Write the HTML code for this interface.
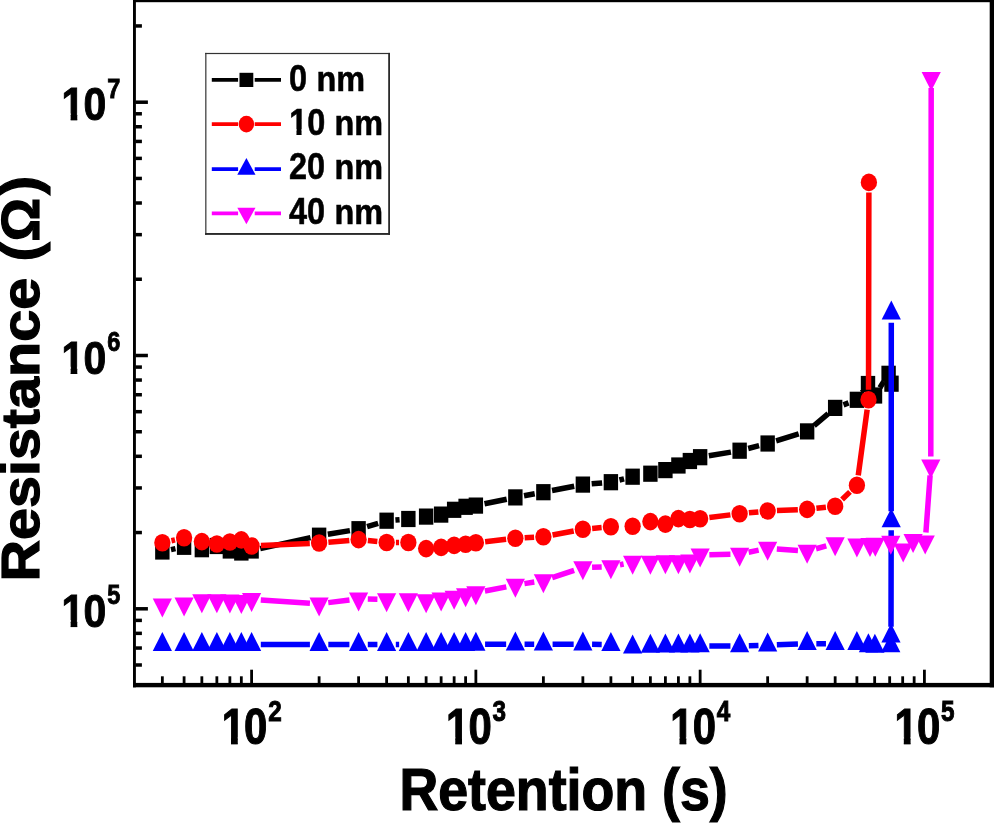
<!DOCTYPE html>
<html><head><meta charset="utf-8"><title>Retention</title>
<style>html,body{margin:0;padding:0;background:#fff;}body{width:994px;height:824px;overflow:hidden;}svg{display:block;will-change:transform;}text{font-family:"Liberation Sans",sans-serif;font-weight:bold;fill:#000;}</style></head><body>
<svg width="994" height="824" viewBox="0 0 994 824">
<rect x="0" y="0" width="994" height="824" fill="#fff"/>
<g fill="#000">
<rect x="133.00" y="0" width="2.90" height="687.30"/>
<rect x="133.00" y="682.90" width="861.00" height="4.40"/>
<rect x="989.70" y="0" width="4.30" height="687.30"/>
<rect x="133.00" y="0.00" width="861.00" height="2.20"/>
<rect x="135.40" y="663.24" width="6.50" height="3.50"/>
<rect x="135.40" y="646.29" width="6.50" height="3.50"/>
<rect x="135.40" y="631.60" width="6.50" height="3.50"/>
<rect x="135.40" y="618.64" width="6.50" height="3.50"/>
<rect x="135.40" y="607.05" width="12.50" height="3.50"/>
<rect x="135.40" y="530.80" width="6.50" height="3.50"/>
<rect x="135.40" y="486.20" width="6.50" height="3.50"/>
<rect x="135.40" y="454.55" width="6.50" height="3.50"/>
<rect x="135.40" y="430.00" width="6.50" height="3.50"/>
<rect x="135.40" y="409.94" width="6.50" height="3.50"/>
<rect x="135.40" y="392.99" width="6.50" height="3.50"/>
<rect x="135.40" y="378.30" width="6.50" height="3.50"/>
<rect x="135.40" y="365.34" width="6.50" height="3.50"/>
<rect x="135.40" y="353.75" width="12.50" height="3.50"/>
<rect x="135.40" y="277.50" width="6.50" height="3.50"/>
<rect x="135.40" y="232.90" width="6.50" height="3.50"/>
<rect x="135.40" y="201.25" width="6.50" height="3.50"/>
<rect x="135.40" y="176.70" width="6.50" height="3.50"/>
<rect x="135.40" y="156.64" width="6.50" height="3.50"/>
<rect x="135.40" y="139.69" width="6.50" height="3.50"/>
<rect x="135.40" y="125.00" width="6.50" height="3.50"/>
<rect x="135.40" y="112.04" width="6.50" height="3.50"/>
<rect x="135.40" y="100.45" width="12.50" height="3.50"/>
<rect x="135.40" y="24.20" width="6.50" height="3.50"/>
<rect x="160.95" y="676.30" width="2.80" height="7.10"/>
<rect x="182.69" y="676.30" width="2.80" height="7.10"/>
<rect x="200.45" y="676.30" width="2.80" height="7.10"/>
<rect x="215.46" y="676.30" width="2.80" height="7.10"/>
<rect x="228.47" y="676.30" width="2.80" height="7.10"/>
<rect x="239.94" y="676.30" width="2.80" height="7.10"/>
<rect x="250.20" y="669.70" width="2.80" height="13.70"/>
<rect x="317.71" y="676.30" width="2.80" height="7.10"/>
<rect x="357.20" y="676.30" width="2.80" height="7.10"/>
<rect x="385.22" y="676.30" width="2.80" height="7.10"/>
<rect x="406.96" y="676.30" width="2.80" height="7.10"/>
<rect x="424.72" y="676.30" width="2.80" height="7.10"/>
<rect x="439.73" y="676.30" width="2.80" height="7.10"/>
<rect x="452.74" y="676.30" width="2.80" height="7.10"/>
<rect x="464.21" y="676.30" width="2.80" height="7.10"/>
<rect x="474.47" y="669.70" width="2.80" height="13.70"/>
<rect x="541.98" y="676.30" width="2.80" height="7.10"/>
<rect x="581.47" y="676.30" width="2.80" height="7.10"/>
<rect x="609.49" y="676.30" width="2.80" height="7.10"/>
<rect x="631.23" y="676.30" width="2.80" height="7.10"/>
<rect x="648.99" y="676.30" width="2.80" height="7.10"/>
<rect x="664.00" y="676.30" width="2.80" height="7.10"/>
<rect x="677.01" y="676.30" width="2.80" height="7.10"/>
<rect x="688.48" y="676.30" width="2.80" height="7.10"/>
<rect x="698.74" y="669.70" width="2.80" height="13.70"/>
<rect x="766.25" y="676.30" width="2.80" height="7.10"/>
<rect x="805.74" y="676.30" width="2.80" height="7.10"/>
<rect x="833.76" y="676.30" width="2.80" height="7.10"/>
<rect x="855.50" y="676.30" width="2.80" height="7.10"/>
<rect x="873.26" y="676.30" width="2.80" height="7.10"/>
<rect x="888.27" y="676.30" width="2.80" height="7.10"/>
<rect x="901.28" y="676.30" width="2.80" height="7.10"/>
<rect x="912.75" y="676.30" width="2.80" height="7.10"/>
<rect x="923.01" y="669.70" width="2.80" height="13.70"/>
</g>
<g>
<path d="M170.98 549.63L175.46 548.67M260.22 548.61L310.49 537.59M327.81 534.27L349.91 530.63M367.07 526.63L378.16 523.27M395.40 520.01L399.58 519.69M484.51 503.81L506.72 499.19M524.03 495.79L534.71 493.81M552.04 490.53L574.21 486.27M591.65 483.85L602.12 482.95M619.46 480.03L624.07 478.87M708.84 455.77L730.93 452.13M748.19 448.50L759.10 445.70M776.11 440.91L798.69 433.99M814.07 425.60L828.24 413.70M843.47 404.80L848.59 402.90M862.18 392.28L862.72 391.52M879.90 387.69L883.70 381.61" stroke="#000000" stroke-width="5.50" fill="none" stroke-linecap="butt"/>
<rect x="155.15" y="543.40" width="14.40" height="16.20" fill="#000000"/><rect x="176.89" y="538.70" width="14.40" height="16.20" fill="#000000"/><rect x="194.65" y="541.10" width="14.40" height="16.20" fill="#000000"/><rect x="209.66" y="537.90" width="14.40" height="16.20" fill="#000000"/><rect x="222.67" y="542.40" width="14.40" height="16.20" fill="#000000"/><rect x="234.14" y="544.40" width="14.40" height="16.20" fill="#000000"/><rect x="244.40" y="542.40" width="14.40" height="16.20" fill="#000000"/><rect x="311.91" y="527.60" width="14.40" height="16.20" fill="#000000"/><rect x="351.40" y="521.10" width="14.40" height="16.20" fill="#000000"/><rect x="379.42" y="512.60" width="14.40" height="16.20" fill="#000000"/><rect x="401.16" y="510.90" width="14.40" height="16.20" fill="#000000"/><rect x="418.92" y="508.50" width="14.40" height="16.20" fill="#000000"/><rect x="433.93" y="506.50" width="14.40" height="16.20" fill="#000000"/><rect x="446.94" y="501.70" width="14.40" height="16.20" fill="#000000"/><rect x="458.41" y="498.70" width="14.40" height="16.20" fill="#000000"/><rect x="468.67" y="497.50" width="14.40" height="16.20" fill="#000000"/><rect x="508.16" y="489.30" width="14.40" height="16.20" fill="#000000"/><rect x="536.18" y="484.10" width="14.40" height="16.20" fill="#000000"/><rect x="575.67" y="476.50" width="14.40" height="16.20" fill="#000000"/><rect x="603.69" y="474.10" width="14.40" height="16.20" fill="#000000"/><rect x="625.43" y="468.60" width="14.40" height="16.20" fill="#000000"/><rect x="643.19" y="465.60" width="14.40" height="16.20" fill="#000000"/><rect x="658.20" y="462.00" width="14.40" height="16.20" fill="#000000"/><rect x="671.21" y="457.40" width="14.40" height="16.20" fill="#000000"/><rect x="682.68" y="452.90" width="14.40" height="16.20" fill="#000000"/><rect x="692.94" y="449.10" width="14.40" height="16.20" fill="#000000"/><rect x="732.43" y="442.60" width="14.40" height="16.20" fill="#000000"/><rect x="760.45" y="435.40" width="14.40" height="16.20" fill="#000000"/><rect x="799.94" y="423.30" width="14.40" height="16.20" fill="#000000"/><rect x="827.96" y="399.80" width="14.40" height="16.20" fill="#000000"/><rect x="849.70" y="391.70" width="14.40" height="16.20" fill="#000000"/><rect x="860.80" y="375.90" width="14.40" height="16.20" fill="#000000"/><rect x="867.80" y="387.40" width="14.40" height="16.20" fill="#000000"/><rect x="881.40" y="365.70" width="14.40" height="16.20" fill="#000000"/><rect x="884.30" y="375.60" width="14.40" height="16.20" fill="#000000"/>
<path d="M171.45 540.71L174.99 539.89M260.89 545.59L309.82 543.41M328.38 542.20L349.33 540.40M367.86 540.56L377.37 541.54M395.92 542.50L399.06 542.50M485.12 541.75L506.11 539.35M524.65 537.80L534.09 537.30M552.54 535.04L573.72 530.96M592.14 528.41L601.62 527.59M709.38 517.53L730.40 514.87M748.89 512.81L758.39 511.89M776.95 510.62L797.85 509.78M816.39 508.34L825.92 507.26M842.08 499.52L849.98 491.88M858.24 475.30L867.16 409.60M868.52 389.70L868.88 192.40" stroke="#ff0000" stroke-width="5.50" fill="none" stroke-linecap="butt"/>
<ellipse cx="162.35" cy="542.80" rx="8.15" ry="8.80" fill="#ff0000"/><ellipse cx="184.09" cy="537.80" rx="8.15" ry="8.80" fill="#ff0000"/><ellipse cx="201.85" cy="541.60" rx="8.15" ry="8.80" fill="#ff0000"/><ellipse cx="216.86" cy="544.00" rx="8.15" ry="8.80" fill="#ff0000"/><ellipse cx="229.87" cy="542.00" rx="8.15" ry="8.80" fill="#ff0000"/><ellipse cx="241.34" cy="539.90" rx="8.15" ry="8.80" fill="#ff0000"/><ellipse cx="251.60" cy="546.00" rx="8.15" ry="8.80" fill="#ff0000"/><ellipse cx="319.11" cy="543.00" rx="8.15" ry="8.80" fill="#ff0000"/><ellipse cx="358.60" cy="539.60" rx="8.15" ry="8.80" fill="#ff0000"/><ellipse cx="386.62" cy="542.50" rx="8.15" ry="8.80" fill="#ff0000"/><ellipse cx="408.36" cy="542.50" rx="8.15" ry="8.80" fill="#ff0000"/><ellipse cx="426.12" cy="548.60" rx="8.15" ry="8.80" fill="#ff0000"/><ellipse cx="441.13" cy="547.40" rx="8.15" ry="8.80" fill="#ff0000"/><ellipse cx="454.14" cy="545.40" rx="8.15" ry="8.80" fill="#ff0000"/><ellipse cx="465.61" cy="544.20" rx="8.15" ry="8.80" fill="#ff0000"/><ellipse cx="475.87" cy="542.80" rx="8.15" ry="8.80" fill="#ff0000"/><ellipse cx="515.36" cy="538.30" rx="8.15" ry="8.80" fill="#ff0000"/><ellipse cx="543.38" cy="536.80" rx="8.15" ry="8.80" fill="#ff0000"/><ellipse cx="582.87" cy="529.20" rx="8.15" ry="8.80" fill="#ff0000"/><ellipse cx="610.89" cy="526.80" rx="8.15" ry="8.80" fill="#ff0000"/><ellipse cx="632.63" cy="526.20" rx="8.15" ry="8.80" fill="#ff0000"/><ellipse cx="650.39" cy="521.60" rx="8.15" ry="8.80" fill="#ff0000"/><ellipse cx="665.40" cy="524.10" rx="8.15" ry="8.80" fill="#ff0000"/><ellipse cx="678.41" cy="518.60" rx="8.15" ry="8.80" fill="#ff0000"/><ellipse cx="689.88" cy="519.50" rx="8.15" ry="8.80" fill="#ff0000"/><ellipse cx="700.14" cy="518.70" rx="8.15" ry="8.80" fill="#ff0000"/><ellipse cx="739.63" cy="513.70" rx="8.15" ry="8.80" fill="#ff0000"/><ellipse cx="767.65" cy="511.00" rx="8.15" ry="8.80" fill="#ff0000"/><ellipse cx="807.14" cy="509.40" rx="8.15" ry="8.80" fill="#ff0000"/><ellipse cx="835.16" cy="506.20" rx="8.15" ry="8.80" fill="#ff0000"/><ellipse cx="856.90" cy="485.20" rx="8.15" ry="8.80" fill="#ff0000"/><ellipse cx="868.50" cy="399.70" rx="8.15" ry="8.80" fill="#ff0000"/><ellipse cx="868.90" cy="182.40" rx="8.15" ry="8.80" fill="#ff0000"/>
<path d="M260.80 644.60L309.91 644.60M328.31 644.60L349.40 644.60M367.80 644.60L377.42 644.60M395.82 644.60L399.16 644.60M485.07 644.35L506.16 644.25M524.56 644.20L534.18 644.20M552.58 644.20L573.67 644.20M592.07 644.36L601.70 644.54M709.34 645.92L730.43 645.98M748.83 645.74L758.46 645.46M776.85 644.85L797.95 644.05M816.34 643.70L825.96 643.70M891.02 626.70L891.18 530.30M891.20 511.30L891.30 322.70" stroke="#0000ff" stroke-width="5.50" fill="none" stroke-linecap="butt"/>
<path d="M162.35 631.93L171.95 650.93L152.75 650.93Z" fill="#0000ff"/><path d="M184.09 631.93L193.69 650.93L174.49 650.93Z" fill="#0000ff"/><path d="M201.85 631.93L211.45 650.93L192.25 650.93Z" fill="#0000ff"/><path d="M216.86 631.93L226.46 650.93L207.26 650.93Z" fill="#0000ff"/><path d="M229.87 631.93L239.47 650.93L220.27 650.93Z" fill="#0000ff"/><path d="M241.34 631.93L250.94 650.93L231.74 650.93Z" fill="#0000ff"/><path d="M251.60 631.93L261.20 650.93L242.00 650.93Z" fill="#0000ff"/><path d="M319.11 631.93L328.71 650.93L309.51 650.93Z" fill="#0000ff"/><path d="M358.60 631.93L368.20 650.93L349.00 650.93Z" fill="#0000ff"/><path d="M386.62 631.93L396.22 650.93L377.02 650.93Z" fill="#0000ff"/><path d="M408.36 631.93L417.96 650.93L398.76 650.93Z" fill="#0000ff"/><path d="M426.12 631.93L435.72 650.93L416.52 650.93Z" fill="#0000ff"/><path d="M441.13 631.93L450.73 650.93L431.53 650.93Z" fill="#0000ff"/><path d="M454.14 631.93L463.74 650.93L444.54 650.93Z" fill="#0000ff"/><path d="M465.61 631.93L475.21 650.93L456.01 650.93Z" fill="#0000ff"/><path d="M475.87 631.73L485.47 650.73L466.27 650.73Z" fill="#0000ff"/><path d="M515.36 631.53L524.96 650.53L505.76 650.53Z" fill="#0000ff"/><path d="M543.38 631.53L552.98 650.53L533.78 650.53Z" fill="#0000ff"/><path d="M582.87 631.53L592.47 650.53L573.27 650.53Z" fill="#0000ff"/><path d="M610.89 632.03L620.49 651.03L601.29 651.03Z" fill="#0000ff"/><path d="M632.63 634.43L642.23 653.43L623.03 653.43Z" fill="#0000ff"/><path d="M650.39 633.83L659.99 652.83L640.79 652.83Z" fill="#0000ff"/><path d="M665.40 633.53L675.00 652.53L655.80 652.53Z" fill="#0000ff"/><path d="M678.41 633.53L688.01 652.53L668.81 652.53Z" fill="#0000ff"/><path d="M689.88 633.53L699.48 652.53L680.28 652.53Z" fill="#0000ff"/><path d="M700.14 633.23L709.74 652.23L690.54 652.23Z" fill="#0000ff"/><path d="M739.63 633.33L749.23 652.33L730.03 652.33Z" fill="#0000ff"/><path d="M767.65 632.53L777.25 651.53L758.05 651.53Z" fill="#0000ff"/><path d="M807.14 631.03L816.74 650.03L797.54 650.03Z" fill="#0000ff"/><path d="M835.16 631.03L844.76 650.03L825.56 650.03Z" fill="#0000ff"/><path d="M856.90 631.03L866.50 650.03L847.30 650.03Z" fill="#0000ff"/><path d="M868.40 633.33L878.00 652.33L858.80 652.33Z" fill="#0000ff"/><path d="M874.90 633.83L884.50 652.83L865.30 652.83Z" fill="#0000ff"/><path d="M890.80 633.33L900.40 652.33L881.20 652.33Z" fill="#0000ff"/><path d="M891.00 623.53L900.60 642.53L881.40 642.53Z" fill="#0000ff"/><path d="M891.20 508.13L900.80 527.13L881.60 527.13Z" fill="#0000ff"/><path d="M891.30 300.53L900.90 319.53L881.70 319.53Z" fill="#0000ff"/>
<path d="M260.78 600.00L309.93 603.20M328.24 602.64L349.47 599.96M367.80 599.03L377.43 599.27M484.91 590.96L506.32 586.84M524.45 583.64L534.29 582.06M552.14 577.69L574.11 570.41M592.07 567.20L601.70 566.90M619.91 564.73L623.61 563.97M709.34 554.64L730.43 554.26M748.65 552.20L758.64 550.10M776.83 548.90L797.97 550.50M816.03 548.76L826.27 545.94M925.90 532.43L930.10 475.37M930.81 456.40L931.19 87.90" stroke="#ff00ff" stroke-width="5.50" fill="none" stroke-linecap="butt"/>
<path d="M162.35 617.47L171.95 598.47L152.75 598.47Z" fill="#ff00ff"/><path d="M184.09 616.57L193.69 597.57L174.49 597.57Z" fill="#ff00ff"/><path d="M201.85 613.27L211.45 594.27L192.25 594.27Z" fill="#ff00ff"/><path d="M216.86 613.27L226.46 594.27L207.26 594.27Z" fill="#ff00ff"/><path d="M229.87 613.57L239.47 594.57L220.27 594.57Z" fill="#ff00ff"/><path d="M241.34 613.97L250.94 594.97L231.74 594.97Z" fill="#ff00ff"/><path d="M251.60 612.07L261.20 593.07L242.00 593.07Z" fill="#ff00ff"/><path d="M319.11 616.47L328.71 597.47L309.51 597.47Z" fill="#ff00ff"/><path d="M358.60 611.47L368.20 592.47L349.00 592.47Z" fill="#ff00ff"/><path d="M386.62 612.17L396.22 593.17L377.02 593.17Z" fill="#ff00ff"/><path d="M408.36 612.17L417.96 593.17L398.76 593.17Z" fill="#ff00ff"/><path d="M426.12 613.37L435.72 594.37L416.52 594.37Z" fill="#ff00ff"/><path d="M441.13 611.47L450.73 592.47L431.53 592.47Z" fill="#ff00ff"/><path d="M454.14 609.77L463.74 590.77L444.54 590.77Z" fill="#ff00ff"/><path d="M465.61 607.27L475.21 588.27L456.01 588.27Z" fill="#ff00ff"/><path d="M475.87 605.37L485.47 586.37L466.27 586.37Z" fill="#ff00ff"/><path d="M515.36 597.77L524.96 578.77L505.76 578.77Z" fill="#ff00ff"/><path d="M543.38 593.27L552.98 574.27L533.78 574.27Z" fill="#ff00ff"/><path d="M582.87 580.17L592.47 561.17L573.27 561.17Z" fill="#ff00ff"/><path d="M610.89 579.27L620.49 560.27L601.29 560.27Z" fill="#ff00ff"/><path d="M632.63 574.77L642.23 555.77L623.03 555.77Z" fill="#ff00ff"/><path d="M650.39 574.77L659.99 555.77L640.79 555.77Z" fill="#ff00ff"/><path d="M665.40 574.17L675.00 555.17L655.80 555.17Z" fill="#ff00ff"/><path d="M678.41 574.17L688.01 555.17L668.81 555.17Z" fill="#ff00ff"/><path d="M689.88 573.57L699.48 554.57L680.28 554.57Z" fill="#ff00ff"/><path d="M700.14 567.47L709.74 548.47L690.54 548.47Z" fill="#ff00ff"/><path d="M739.63 566.77L749.23 547.77L730.03 547.77Z" fill="#ff00ff"/><path d="M767.65 560.87L777.25 541.87L758.05 541.87Z" fill="#ff00ff"/><path d="M807.14 563.87L816.74 544.87L797.54 544.87Z" fill="#ff00ff"/><path d="M835.16 556.17L844.76 537.17L825.56 537.17Z" fill="#ff00ff"/><path d="M856.90 557.57L866.50 538.57L847.30 538.57Z" fill="#ff00ff"/><path d="M870.00 556.97L879.60 537.97L860.40 537.97Z" fill="#ff00ff"/><path d="M875.30 556.77L884.90 537.77L865.70 537.77Z" fill="#ff00ff"/><path d="M890.80 554.87L900.40 535.87L881.20 535.87Z" fill="#ff00ff"/><path d="M903.20 562.47L912.80 543.47L893.60 543.47Z" fill="#ff00ff"/><path d="M913.10 552.97L922.70 533.97L903.50 533.97Z" fill="#ff00ff"/><path d="M925.20 554.57L934.80 535.57L915.60 535.57Z" fill="#ff00ff"/><path d="M930.80 478.57L940.40 459.57L921.20 459.57Z" fill="#ff00ff"/><path d="M931.20 91.07L940.80 72.07L921.60 72.07Z" fill="#ff00ff"/>
</g>
<rect x="205.1" y="52.9" width="184.9" height="182.0" fill="#fff"/>
<rect x="205.1" y="52.9" width="1.4" height="182.0" fill="#505050"/>
<rect x="205.1" y="52.9" width="184.9" height="1.2" fill="#333"/>
<rect x="388.2" y="52.9" width="1.8" height="182.0" fill="#2a2a2a"/>
<rect x="205.1" y="233.0" width="184.9" height="1.9" fill="#2a2a2a"/>
<path d="M211.80 79.90H238.10M254.70 79.90H281.00" stroke="#000000" stroke-width="3.70" fill="none"/>
<rect x="239.50" y="72.80" width="13.8" height="14.2" fill="#000000"/>
<path d="M211.80 124.10H238.10M254.70 124.10H281.00" stroke="#ff0000" stroke-width="3.70" fill="none"/>
<ellipse cx="246.40" cy="124.10" rx="7.75" ry="8.4" fill="#ff0000"/>
<path d="M211.80 169.10H238.10M254.70 169.10H281.00" stroke="#0000ff" stroke-width="3.70" fill="none"/>
<path d="M246.40 158.03L255.50 174.63L237.30 174.63Z" fill="#0000ff"/>
<path d="M211.80 213.30H238.10M254.70 213.30H281.00" stroke="#ff00ff" stroke-width="3.70" fill="none"/>
<path d="M246.40 224.37L255.50 207.77L237.30 207.77Z" fill="#ff00ff"/>
<defs><clipPath id="c1t"><rect x="-5" y="-55.20" width="46.00" height="48.61"/><rect x="10.19" y="-46.00" width="7.41" height="46.50"/></clipPath><clipPath id="c1l"><rect x="-5" y="-39.36" width="32.80" height="34.36"/><rect x="7.36" y="-32.80" width="5.10" height="33.05"/></clipPath></defs>
<g transform="translate(289.00 90.60) scale(0.990 1.115)"><text x="0" y="0" font-size="32.8" stroke="#000" stroke-width="0.5">0</text></g><g transform="translate(316.48 90.60) scale(0.990 1.070)"><text x="0" y="0" font-size="32.8" stroke="#000" stroke-width="0.5">nm</text></g>
<g transform="translate(289.00 134.60) scale(0.990 1.115)"><g transform="translate(0.2 0)"><text x="0" y="0" font-size="32.8" stroke="#000" stroke-width="0.6" clip-path="url(#c1l)">1</text></g><text x="18.44" y="0" font-size="32.8" stroke="#000" stroke-width="0.5">0</text></g><g transform="translate(334.54 134.60) scale(0.990 1.070)"><text x="0" y="0" font-size="32.8" stroke="#000" stroke-width="0.5">nm</text></g>
<g transform="translate(289.00 178.80) scale(0.990 1.115)"><text x="0" y="0" font-size="32.8" stroke="#000" stroke-width="0.5">20</text></g><g transform="translate(334.54 178.80) scale(0.990 1.070)"><text x="0" y="0" font-size="32.8" stroke="#000" stroke-width="0.5">nm</text></g>
<g transform="translate(289.00 223.70) scale(0.990 1.115)"><text x="0" y="0" font-size="32.8" stroke="#000" stroke-width="0.5">40</text></g><g transform="translate(334.54 223.70) scale(0.990 1.070)"><text x="0" y="0" font-size="32.8" stroke="#000" stroke-width="0.5">nm</text></g>
<g transform="translate(220.80 744.30) scale(0.912 1.080)"><g transform="translate(1.0 0)"><text x="0" y="0" font-size="46.0" stroke="#000" stroke-width="1.0" clip-path="url(#c1t)">1</text></g><text x="25.58" y="0" font-size="46.0" stroke="#000" stroke-width="1.0">0</text></g><g transform="translate(268.20 721.00) scale(0.900 1.100)"><text x="0" y="0" font-size="27.0" stroke="#000" stroke-width="0.9">2</text></g>
<g transform="translate(445.07 744.30) scale(0.912 1.080)"><g transform="translate(1.0 0)"><text x="0" y="0" font-size="46.0" stroke="#000" stroke-width="1.0" clip-path="url(#c1t)">1</text></g><text x="25.58" y="0" font-size="46.0" stroke="#000" stroke-width="1.0">0</text></g><g transform="translate(492.47 721.00) scale(0.900 1.100)"><text x="0" y="0" font-size="27.0" stroke="#000" stroke-width="0.9">3</text></g>
<g transform="translate(669.34 744.30) scale(0.912 1.080)"><g transform="translate(1.0 0)"><text x="0" y="0" font-size="46.0" stroke="#000" stroke-width="1.0" clip-path="url(#c1t)">1</text></g><text x="25.58" y="0" font-size="46.0" stroke="#000" stroke-width="1.0">0</text></g><g transform="translate(716.74 721.00) scale(0.900 1.100)"><text x="0" y="0" font-size="27.0" stroke="#000" stroke-width="0.9">4</text></g>
<g transform="translate(893.61 744.30) scale(0.912 1.080)"><g transform="translate(1.0 0)"><text x="0" y="0" font-size="46.0" stroke="#000" stroke-width="1.0" clip-path="url(#c1t)">1</text></g><text x="25.58" y="0" font-size="46.0" stroke="#000" stroke-width="1.0">0</text></g><g transform="translate(941.01 721.00) scale(0.900 1.100)"><text x="0" y="0" font-size="27.0" stroke="#000" stroke-width="0.9">5</text></g>
<g transform="translate(60.70 626.80) scale(0.890 1.020)"><g transform="translate(1.0 0)"><text x="0" y="0" font-size="46.0" stroke="#000" stroke-width="1.0" clip-path="url(#c1t)">1</text></g><text x="25.58" y="0" font-size="46.0" stroke="#000" stroke-width="1.0">0</text></g><g transform="translate(107.20 604.20) scale(0.870 1.000)"><text x="0" y="0" font-size="27.0" stroke="#000" stroke-width="0.9">5</text></g>
<g transform="translate(60.70 373.50) scale(0.890 1.020)"><g transform="translate(1.0 0)"><text x="0" y="0" font-size="46.0" stroke="#000" stroke-width="1.0" clip-path="url(#c1t)">1</text></g><text x="25.58" y="0" font-size="46.0" stroke="#000" stroke-width="1.0">0</text></g><g transform="translate(107.20 350.90) scale(0.870 1.000)"><text x="0" y="0" font-size="27.0" stroke="#000" stroke-width="0.9">6</text></g>
<g transform="translate(60.70 120.20) scale(0.890 1.020)"><g transform="translate(1.0 0)"><text x="0" y="0" font-size="46.0" stroke="#000" stroke-width="1.0" clip-path="url(#c1t)">1</text></g><text x="25.58" y="0" font-size="46.0" stroke="#000" stroke-width="1.0">0</text></g><g transform="translate(107.20 97.60) scale(0.870 1.000)"><text x="0" y="0" font-size="27.0" stroke="#000" stroke-width="0.9">7</text></g>
<g transform="translate(399.4 809.6) scale(0.9266 1.024)"><text x="0" y="0" font-size="58" stroke="#000" stroke-width="1.2">Retention (s)</text></g>
<g transform="translate(39.00 581.60) rotate(-90) scale(1.0874 1.0000)"><text x="0" y="0" font-size="52.90" stroke="#000" stroke-width="1.20">Resistance</text></g>
<g transform="translate(39.00 261.40) rotate(-90) scale(1.0874 1.0000)"><text x="0" y="0" font-size="52.90" stroke="#000" stroke-width="1.20">(</text></g>
<g transform="translate(39.00 241.60) rotate(-90) scale(1.0297 1.0000)"><text x="0" y="0" font-size="52.90" stroke="#000" stroke-width="1.20">Ω</text></g>
<g transform="translate(39.00 195.00) rotate(-90) scale(1.0874 1.0000)"><text x="0" y="0" font-size="52.90" stroke="#000" stroke-width="1.20">)</text></g>
</svg></body></html>
